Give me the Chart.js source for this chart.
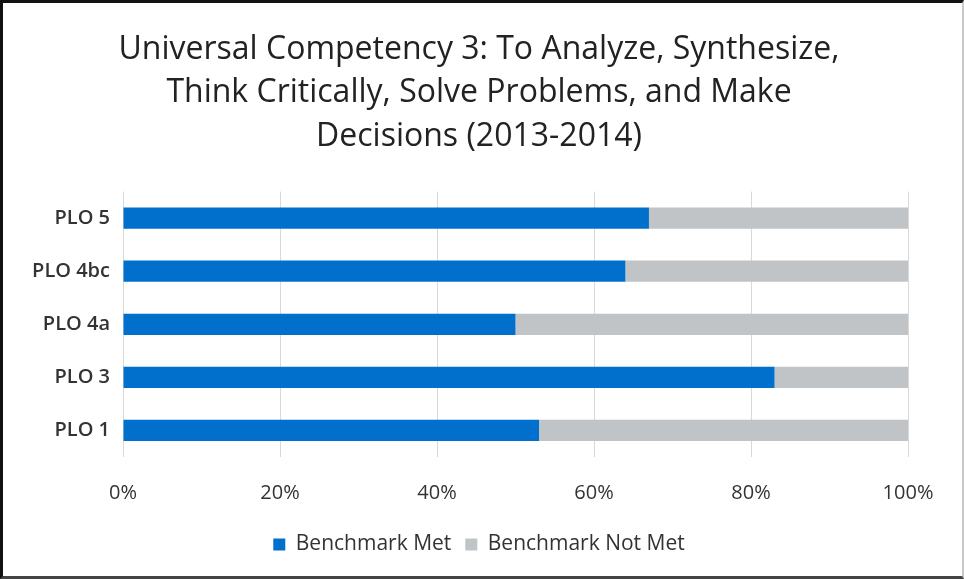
<!DOCTYPE html>
<html>
<head>
<meta charset="utf-8">
<script src="https://cdn.jsdelivr.net/npm/chart.js@4"></script>
<style>
html,body{margin:0;padding:0;background:#fff;}
#wrap{position:absolute;left:0;top:0;width:964px;height:579px;box-sizing:border-box;
border-top:3px solid #111;border-left:3px solid #111;border-right:2px solid #c8c8c8;border-bottom:3px solid #444;}
#c{display:block;}
</style>
</head>
<body>
<div id="wrap"><canvas id="c" width="959" height="573"></canvas></div>
<script>
const titleLines = ["Universal Competency 3: To Analyze, Synthesize,", "Think Critically, Solve Problems, and Make", "Decisions (2013-2014)"];
const categories = ["PLO 5", "PLO 4bc", "PLO 4a", "PLO 3", "PLO 1"];
const benchmarkMet = [67, 64, 50, 83, 53];
const benchmarkNotMet = [33, 36, 50, 17, 47];
const xTicks = [0, 20, 40, 60, 80, 100];
const seriesNames = ["Benchmark Met", "Benchmark Not Met"];

const font = "'Open Sans', 'Liberation Sans', sans-serif";
new Chart(document.getElementById('c'), {
  type: 'bar',
  data: {
    labels: categories,
    datasets: [
      {label: seriesNames[0], data: benchmarkMet, backgroundColor: '#0070cc', barPercentage: 0.4, categoryPercentage: 1.0},
      {label: seriesNames[1], data: benchmarkNotMet, backgroundColor: '#c0c4c6', barPercentage: 0.4, categoryPercentage: 1.0}
    ]
  },
  options: {
    indexAxis: 'y',
    responsive: false,
    animation: false,
    layout: {padding: {left: 10, right: 17, top: 25, bottom: 11}},
    plugins: {
      title: {display: true, text: titleLines, color: '#222',
        font: {family: font, size: 32, weight: 'normal', lineHeight: 1.36}, padding: {top: 0, bottom: 33}},
      legend: {position: 'bottom', labels: {boxWidth: 12, boxHeight: 12, color: '#333',
        font: {family: font, size: 21}, padding: 14}},
      tooltip: {enabled: false}
    },
    scales: {
      x: {stacked: true, min: 0, max: 100, afterBuildTicks: s => { s.ticks = xTicks.map(v => ({value: v})); },
        afterFit: s => { s.height = 63; },
        grid: {color: '#d9d9d9', drawTicks: false}, border: {display: false},
        ticks: {color: '#333', padding: 24, font: {family: font, size: 20}, callback: v => v + '%'}},
      y: {stacked: true, afterFit: s => { s.width = 110; }, grid: {display: false, drawTicks: false}, border: {display: false},
        ticks: {color: '#333', padding: 13, font: {family: font, size: 20, weight: '600'}}},
      yRight: {position: 'right', display: true, afterFit: s => { s.width = 37; },
        grid: {display: false, drawTicks: false}, border: {display: false}, ticks: {display: false}}
    }
  }
});
</script>
</body>
</html>
